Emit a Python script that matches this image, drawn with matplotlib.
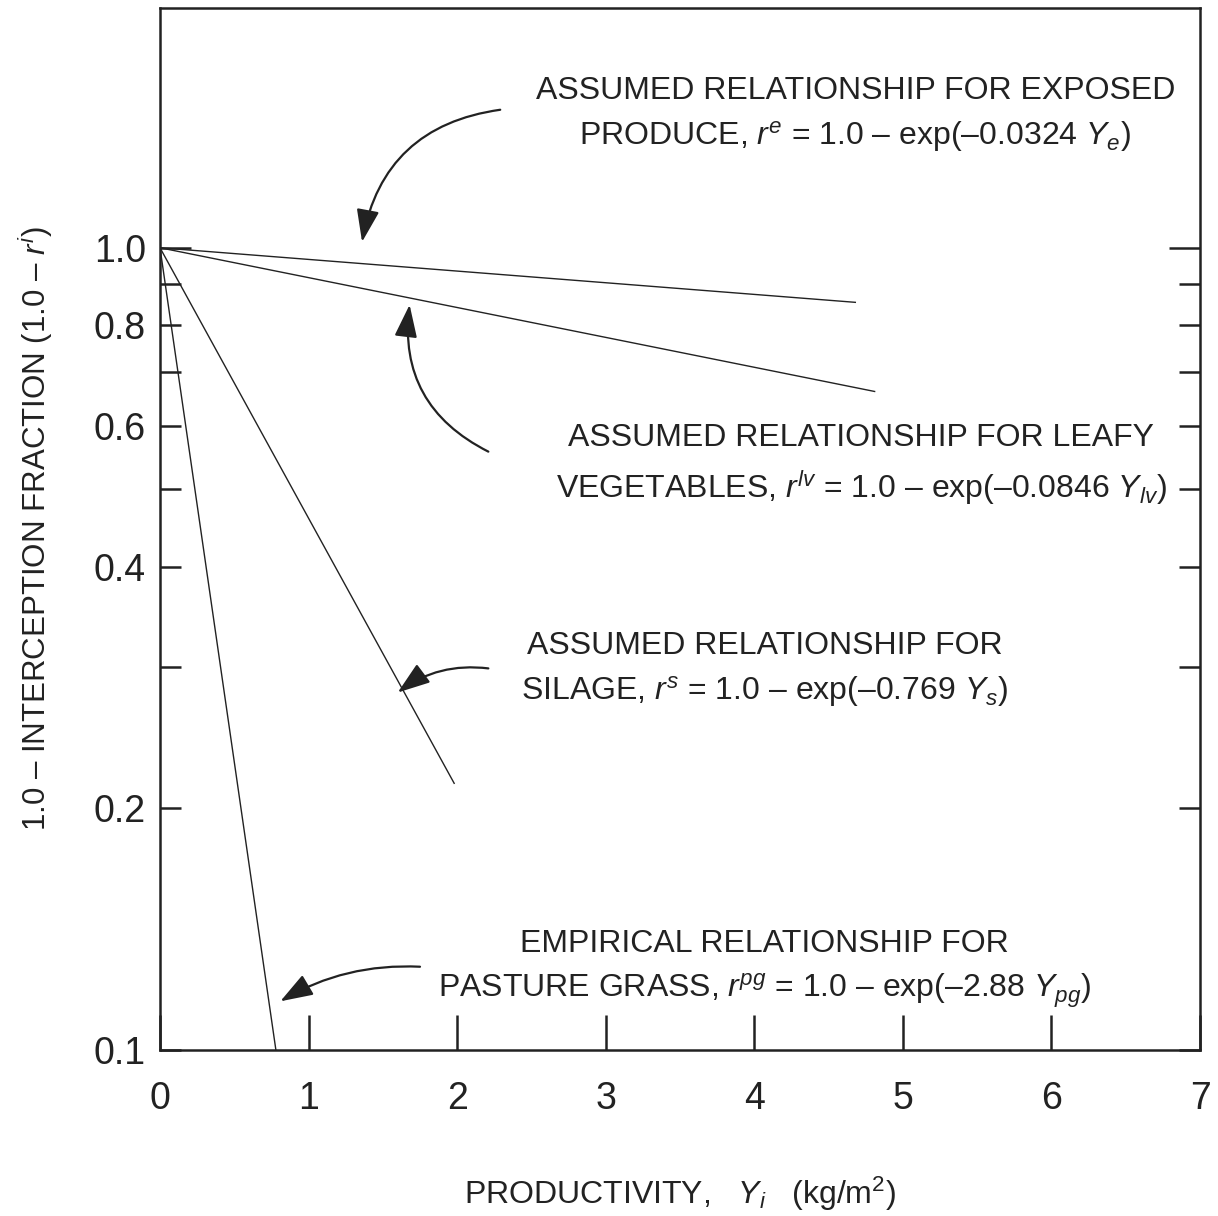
import matplotlib
matplotlib.use("Agg")
import matplotlib.pyplot as plt

plt.rcParams['font.family'] = ['Liberation Sans', 'DejaVu Sans']
plt.rcParams['mathtext.fontset'] = 'custom'
plt.rcParams['mathtext.rm'] = 'Liberation Sans'
plt.rcParams['mathtext.it'] = 'Liberation Sans:italic'

# line end points (straight on log y)
names = ['exposed', 'leafy', 'silage', 'pasture']
x_start = [0.0, 0.0, 0.0, 0.0]
y_start = [1.0, 1.0, 1.0, 1.0]
x_end = [4.68, 4.81, 1.98, 0.78]
y_end = [0.855, 0.662, 0.215, 0.100]

labels = [
    'ASSUMED RELATIONSHIP FOR EXPOSED\nPRODUCE, $r^e$ = 1.0 \u2013 exp(\u20130.0324 $Y_e$)',
    'ASSUMED RELATIONSHIP FOR LEAFY\nVEGETABLES, $r^{lv}$ = 1.0 \u2013 exp(\u20130.0846 $Y_{lv}$)',
    'ASSUMED RELATIONSHIP FOR\nSILAGE, $r^s$ = 1.0 \u2013 exp(\u20130.769 $Y_s$)',
    'EMPIRICAL RELATIONSHIP FOR\nPASTURE GRASS, $r^{pg}$ = 1.0 \u2013 exp(\u20132.88 $Y_{pg}$)',
]
text_x = [4.68, 4.72, 4.07, 4.07]
text_y = [1.465, 0.536, 0.298, 0.126]
arrow_from = [(2.29, 1.486), (2.21, 0.557), (2.21, 0.299), (1.75, 0.127)]
arrow_to = [(1.36, 1.017), (1.68, 0.849), (1.60, 0.279), (0.81, 0.115)]
arrow_rad = [0.36, -0.35, 0.2, 0.15]

y_ticks = [0.1, 0.2, 0.3, 0.4, 0.5, 0.6, 0.7, 0.8, 0.9, 1.0]
y_ticklabels = ['0.1', '0.2', '', '0.4', '', '0.6', '', '0.8', '', '1.0']
x_ticks = [0, 1, 2, 3, 4, 5, 6, 7]

fig = plt.figure(figsize=(12.18, 12.16), dpi=100)
ax = fig.add_axes([160/1218, 1 - 1050/1216, 1040/1218, 1042/1216])

for i in range(len(names)):
    ax.plot([x_start[i], x_end[i]], [y_start[i], y_end[i]], color='#222222', lw=1.0)
    ax.text(text_x[i], text_y[i], labels[i], ha='center', va='center',
            multialignment='center', fontsize=23, linespacing=1.5, color='#222222')
    ax.annotate('', xy=arrow_to[i], xytext=arrow_from[i],
                arrowprops=dict(arrowstyle='-|>,head_length=1.0,head_width=0.35',
                                mutation_scale=20, color='#222222', lw=1.6,
                                shrinkA=0, shrinkB=0,
                                connectionstyle='arc3,rad=%s' % arrow_rad[i]))

ax.set_yscale('log')
ax.set_xlim(0, 7)
ax.set_ylim(0.1, 1.99)
ax.set_yticks(y_ticks)
ax.set_yticklabels(y_ticklabels)
ax.minorticks_off()
ax.set_xticks(x_ticks)

for s in ax.spines.values():
    s.set_linewidth(1.8)
    s.set_color('#222222')

ax.tick_params(axis='y', which='major', direction='in', length=15, width=1.8,
               left=True, right=True, labelsize=27, pad=10, colors='#222222')
ax.tick_params(axis='x', which='major', direction='in', length=25, width=1.8,
               labelsize=27, pad=22, colors='#222222')
# longer tick at 1.0 on both sides
t = ax.yaxis.get_major_ticks()[-1]
t.tick1line.set_markersize(22)
t.tick2line.set_markersize(22)

ax.set_xlabel('PRODUCTIVITY,   $Y_i$   (kg/m$^2$)', fontsize=23, labelpad=42, color='#222222')
ax.set_ylabel('1.0 \u2013 INTERCEPTION FRACTION (1.0 \u2013 $r^i$)', fontsize=22.5,
              labelpad=28, color='#222222')

fig.savefig('out.png', dpi=100)
